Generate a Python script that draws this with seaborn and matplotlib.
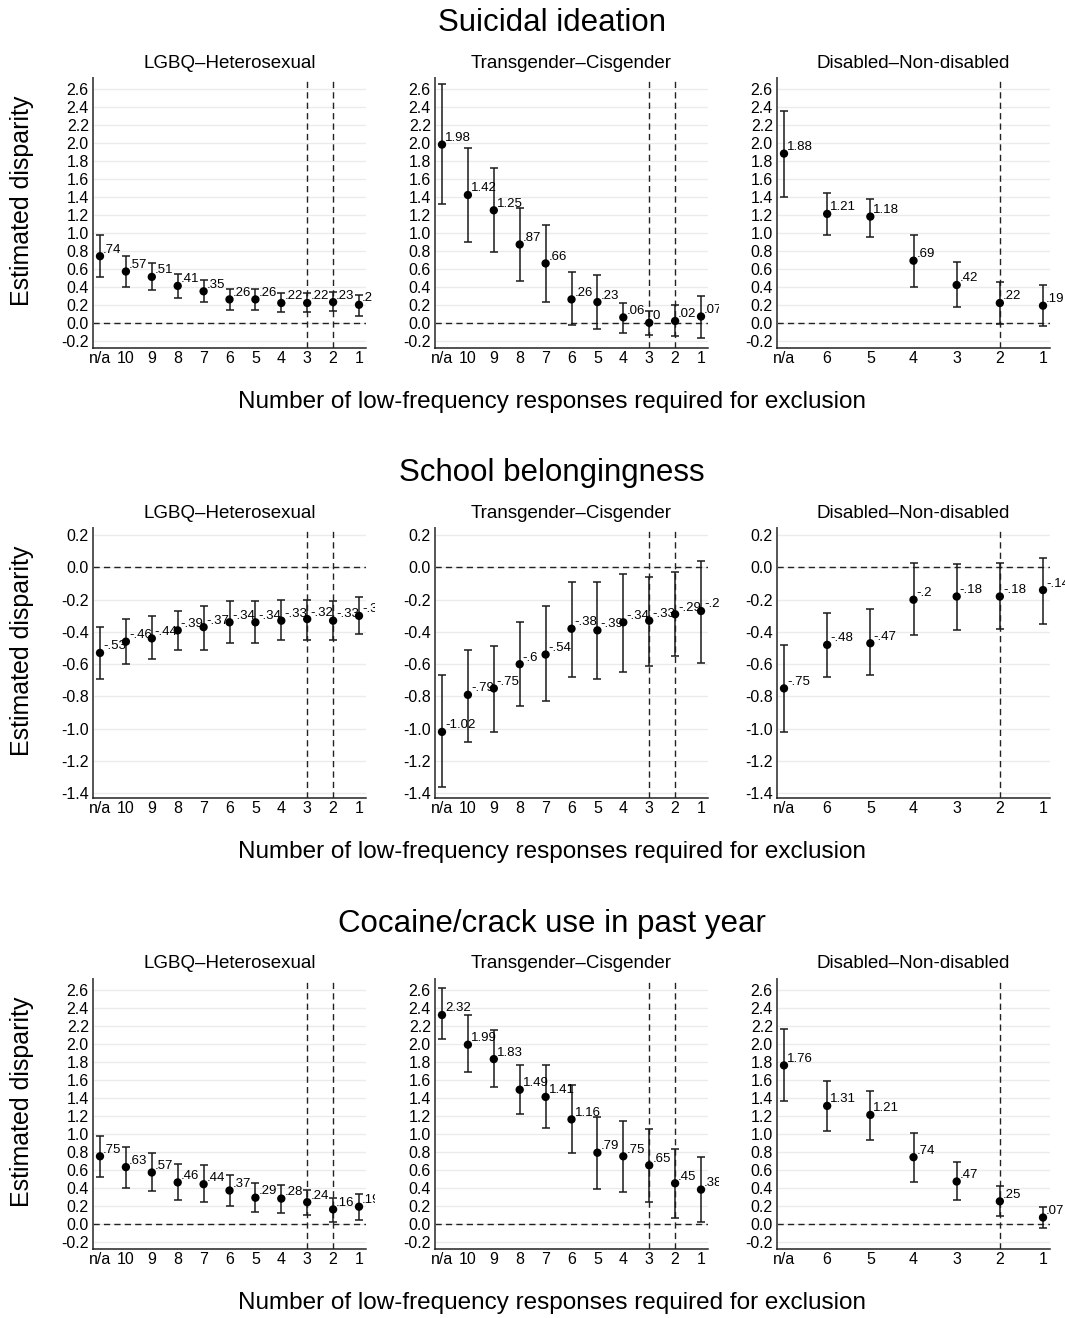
import numpy as np
import pandas as pd
import matplotlib
matplotlib.use("Agg")
import matplotlib.pyplot as plt
import seaborn as sns
from matplotlib.transforms import Bbox, TransformedBbox

# ---------------- data ----------------
outcomes = ["Suicidal ideation", "School belongingness", "Cocaine/crack use in past year"]
groups = ["LGBQ\u2013Heterosexual", "Transgender\u2013Cisgender", "Disabled\u2013Non-disabled"]

x_full = ["n/a", "10", "9", "8", "7", "6", "5", "4", "3", "2", "1"]
x_dis = ["n/a", "6", "5", "4", "3", "2", "1"]
vline_full = ["3", "2"]
vline_dis = ["2"]

# Suicidal ideation
si_lgbq_est = [.74, .57, .51, .41, .35, .26, .26, .22, .22, .23, .20]
si_lgbq_lo = [.51, .40, .36, .28, .23, .14, .14, .12, .12, .13, .08]
si_lgbq_hi = [.97, .74, .66, .54, .48, .38, .37, .33, .33, .34, .31]
si_trans_est = [1.98, 1.42, 1.25, .87, .66, .26, .23, .06, 0.0, .02, .07]
si_trans_lo = [1.32, .90, .79, .46, .23, -.03, -.07, -.11, -.14, -.15, -.17]
si_trans_hi = [2.65, 1.94, 1.72, 1.28, 1.09, .56, .53, .22, .13, .20, .30]
si_dis_est = [1.88, 1.21, 1.18, .69, .42, .22, .19]
si_dis_lo = [1.40, .97, .95, .40, .17, -.01, -.04]
si_dis_hi = [2.35, 1.44, 1.38, .98, .67, .45, .42]

# School belongingness
sb_lgbq_est = [-.53, -.46, -.44, -.39, -.37, -.34, -.34, -.33, -.32, -.33, -.30]
sb_lgbq_lo = [-.69, -.60, -.57, -.51, -.51, -.47, -.47, -.45, -.45, -.45, -.41]
sb_lgbq_hi = [-.37, -.32, -.30, -.27, -.24, -.21, -.21, -.20, -.20, -.21, -.18]
sb_trans_est = [-1.02, -.79, -.75, -.60, -.54, -.38, -.39, -.34, -.33, -.29, -.27]
sb_trans_lo = [-1.36, -1.08, -1.02, -.86, -.83, -.68, -.69, -.65, -.61, -.55, -.59]
sb_trans_hi = [-.67, -.51, -.49, -.34, -.24, -.09, -.09, -.04, -.06, -.03, .04]
sb_dis_est = [-.75, -.48, -.47, -.20, -.18, -.18, -.14]
sb_dis_lo = [-1.02, -.68, -.67, -.42, -.39, -.38, -.35]
sb_dis_hi = [-.48, -.28, -.26, .03, .02, .03, .06]

# Cocaine/crack use in past year
cc_lgbq_est = [.75, .63, .57, .46, .44, .37, .29, .28, .24, .16, .19]
cc_lgbq_lo = [.52, .40, .36, .26, .24, .20, .13, .12, .10, .02, .04]
cc_lgbq_hi = [.98, .85, .79, .67, .65, .54, .45, .43, .38, .29, .33]
cc_trans_est = [2.32, 1.99, 1.83, 1.49, 1.41, 1.16, .79, .75, .65, .45, .38]
cc_trans_lo = [2.05, 1.69, 1.52, 1.22, 1.07, .79, .39, .35, .24, .06, .02]
cc_trans_hi = [2.62, 2.32, 2.15, 1.77, 1.76, 1.54, 1.19, 1.14, 1.05, .83, .74]
cc_dis_est = [1.76, 1.31, 1.21, .74, .47, .25, .07]
cc_dis_lo = [1.37, 1.03, .93, .47, .26, .09, -.05]
cc_dis_hi = [2.16, 1.59, 1.48, 1.01, .69, .42, .19]

panels = [
    [(si_lgbq_est, si_lgbq_lo, si_lgbq_hi), (si_trans_est, si_trans_lo, si_trans_hi), (si_dis_est, si_dis_lo, si_dis_hi)],
    [(sb_lgbq_est, sb_lgbq_lo, sb_lgbq_hi), (sb_trans_est, sb_trans_lo, sb_trans_hi), (sb_dis_est, sb_dis_lo, sb_dis_hi)],
    [(cc_lgbq_est, cc_lgbq_lo, cc_lgbq_hi), (cc_trans_est, cc_trans_lo, cc_trans_hi), (cc_dis_est, cc_dis_lo, cc_dis_hi)],
]
row_ylims = [(-0.28, 2.72), (-1.43, 0.245), (-0.28, 2.72)]
row_yticks = [np.round(np.arange(-0.2, 2.61, 0.2), 1), np.round(np.arange(-1.4, 0.21, 0.2), 1),
              np.round(np.arange(-0.2, 2.61, 0.2), 1)]

# ---------------- style ----------------
sns.set_theme(style="white")
plt.rcParams["font.family"] = ["Liberation Sans", "DejaVu Sans"]
plt.rcParams["axes.unicode_minus"] = False
plt.rcParams["text.color"] = "black"
plt.rcParams["xtick.color"] = "black"
plt.rcParams["ytick.color"] = "black"

W, H = 1065, 1318
fig = plt.figure(figsize=(W / 100, H / 100), dpi=100)

col_left = [93, 435, 777]
col_clip = [375, 719, 1065]
row_top = [78, 528, 979]
AX_W, AX_H = 273, 270


def fmt(v):
    s = f"{v:.2f}".rstrip("0").rstrip(".")
    if s.startswith("0."):
        s = s[1:]
    elif s.startswith("-0."):
        s = "-" + s[2:]
    if s in ("-0", ""):
        s = "0"
    return s


def tick_fmt(v):
    if abs(v) < 1e-9:
        v = 0.0
    return f"{v:.1f}"


for r, outcome in enumerate(outcomes):
    top = row_top[r]
    fig.text(552 / W, 1 - (top - 55) / H, outcome, ha="center", va="center", fontsize=22.5, color="black")
    fig.text(552 / W, 1 - (top + 324) / H, "Number of low-frequency responses required for exclusion",
             ha="center", va="center", fontsize=17.5, color="black")
    fig.text(22 / W, 1 - (top + 123) / H, "Estimated disparity", rotation=90,
             ha="center", va="center", fontsize=18, color="black")
    for c, grp in enumerate(groups):
        est, lo, hi = panels[r][c]
        xl = x_dis if c == 2 else x_full
        vl = vline_dis if c == 2 else vline_full
        n = len(xl)
        df = pd.DataFrame({"pos": np.arange(n), "label": xl, "est": est, "lo": lo, "hi": hi})

        left = col_left[c]
        ax = fig.add_axes([left / W, 1 - (top + AX_H) / H, AX_W / W, AX_H / H])
        fig.text((left + AX_W / 2) / W, 1 - (top - 15) / H, grp, ha="center", va="center",
                 fontsize=13.5, color="black")

        ax.set_axisbelow(True)
        ax.yaxis.grid(True, color="#ebebeb", lw=1)
        ax.xaxis.grid(False)
        ax.axhline(0, color="#222222", lw=1, ls=(0, (4.5, 3)), zorder=1)
        for v in vl:
            ax.axvline(xl.index(v), color="#222222", lw=1, ls=(0, (4.5, 3)), zorder=1)

        ax.errorbar(df["pos"], df["est"], yerr=[df["est"] - df["lo"], df["hi"] - df["est"]],
                    fmt="none", ecolor="#1a1a1a", elinewidth=1.1, capsize=2.6, capthick=1.1, zorder=3)
        sns.scatterplot(data=df, x="pos", y="est", ax=ax, color="black", s=36,
                        edgecolor="none", linewidth=0, zorder=5, legend=False)

        clipbox = TransformedBbox(Bbox([[0, 0], [col_clip[c] / W, 1]]), fig.transFigure)
        for _, row in df.iterrows():
            t = ax.annotate(fmt(row["est"]), (row["pos"], row["est"]), xytext=(2.2, 0.4),
                            textcoords="offset points", ha="left", va="bottom", fontsize=9.5,
                            color="black", annotation_clip=False, zorder=6)
            t.set_clip_box(clipbox)
            t.set_clip_on(True)

        d = 0.027 * (n - 1)
        ax.set_xlim(-d, n - 1 + d)
        ax.set_ylim(*row_ylims[r])
        ax.set_xticks(df["pos"])
        ax.set_xticklabels(xl)
        ax.set_yticks(row_yticks[r])
        ax.set_yticklabels([tick_fmt(v) for v in row_yticks[r]])
        ax.set_xlabel("")
        ax.set_ylabel("")
        ax.tick_params(axis="both", length=0, labelsize=11.5, colors="black")
        ax.tick_params(axis="x", pad=2)
        ax.tick_params(axis="y", pad=3)
        for s in ("top", "right"):
            ax.spines[s].set_visible(False)
        ax.spines["left"].set_color("#555555")
        ax.spines["left"].set_linewidth(1.4)
        ax.spines["bottom"].set_color("#222222")
        ax.spines["bottom"].set_linewidth(1.1)

fig.savefig("out.png", dpi=100, facecolor="white")
